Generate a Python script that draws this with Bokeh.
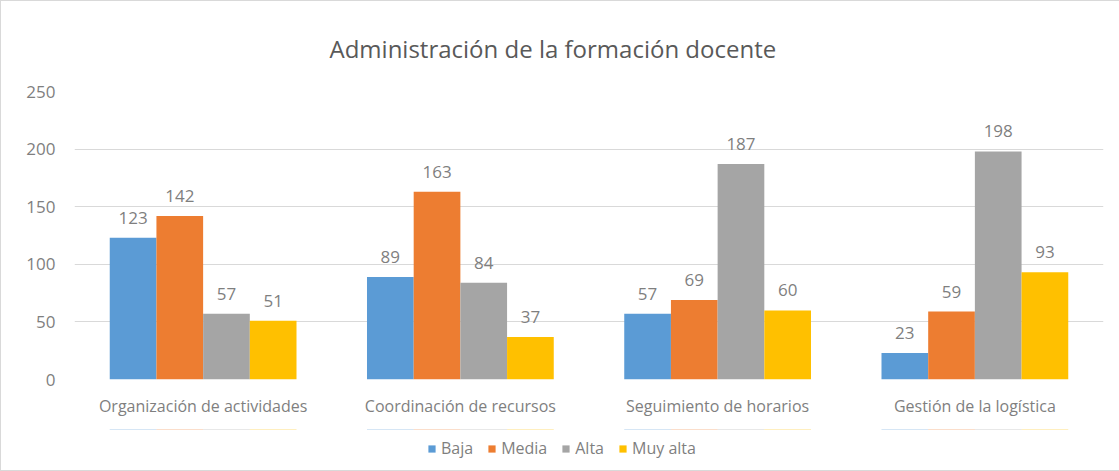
from bokeh.plotting import figure
from bokeh.models import ColumnDataSource, Range1d, Legend, LegendItem, FactorRange
from bokeh.layouts import column
from bokeh.transform import dodge
from bokeh.core.properties import value
from bokeh.embed import file_html
from bokeh.resources import INLINE

categories = ["Organización de actividades", "Coordinación de recursos",
              "Seguimiento de horarios", "Gestión de la logística"]
series_names = ["Baja", "Media", "Alta", "Muy alta"]
baja = [123, 89, 57, 23]
media = [142, 163, 69, 59]
alta = [57, 84, 187, 198]
muy_alta = [51, 37, 60, 93]
y_ticks = [0, 50, 100, 150, 200, 250]
title_text = "Administración de la formación docente"

colors = ["#5B9BD5", "#ED7D31", "#A5A5A5", "#FFC000"]
series_values = [baja, media, alta, muy_alta]
FONT = "Open Sans"
TXT = "#7f7f7f"

p = figure(x_range=FactorRange(*categories), y_range=Range1d(0, 250),
           frame_width=1029, frame_height=288, output_backend="svg", toolbar_location=None,
           min_border_left=73, min_border_right=16, min_border_top=90, min_border_bottom=50,
           title=title_text)
p.outline_line_color = None
p.background_fill_color = "white"
p.border_fill_color = "white"

p.title.align = "left"
p.title.text_font = FONT
p.title.text_font_size = "24px"
p.title.text_font_style = "normal"
p.title.text_color = "#595959"
p.title.standoff = 54
p.title.offset = 255

data = {"cat": categories}
keys = ["s0", "s1", "s2", "s3"]
for k, v in zip(keys, series_values):
    data[k] = v
src = ColumnDataSource(data)

bw = 0.1815
offsets = [-1.5 * bw, -0.5 * bw, 0.5 * bw, 1.5 * bw]
for k, c, off in zip(keys, colors, offsets):
    p.vbar(x=dodge("cat", off, range=p.x_range), top=k, width=bw, source=src,
           fill_color=c, line_color=None)
    p.text(x=dodge("cat", off, range=p.x_range), y=k, text=k, source=src,
           text_align="center", text_baseline="middle", y_offset=-20,
           text_font=value(FONT), text_font_size="17px", text_color=TXT)

p.yaxis.ticker = y_ticks
p.yaxis.axis_line_color = None
p.yaxis.major_tick_line_color = None
p.yaxis.minor_tick_line_color = None
p.yaxis.major_tick_out = 0
p.yaxis.major_tick_in = 0
p.yaxis.major_label_text_font = FONT
p.yaxis.major_label_text_font_size = "17px"
p.yaxis.major_label_text_color = TXT
p.yaxis.major_label_standoff = 19

p.xaxis.axis_line_color = None
p.xaxis.major_tick_line_color = None
p.xaxis.major_tick_out = 0
p.xaxis.major_tick_in = 0
p.xaxis.major_label_text_font = FONT
p.xaxis.major_label_text_font_size = "16px"
p.xaxis.major_label_text_color = TXT
p.xaxis.major_label_standoff = 15

p.xgrid.grid_line_color = None
p.ygrid.grid_line_color = "#d9d9d9"
p.ygrid.grid_line_width = 1

# legend strip underneath the chart (its bars lie outside its visible range)
p2 = figure(width=1118, height=41, x_range=p.x_range, y_range=Range1d(-2, -1),
            x_axis_type=None, y_axis_type=None, output_backend="svg", toolbar_location=None,
            min_border=0)
p2.outline_line_color = None
p2.grid.visible = False
items = []
for k, name, c, off in zip(keys, series_names, colors, offsets):
    r = p2.vbar(x=dodge("cat", off, range=p2.x_range), top=k, width=bw, source=src,
                fill_color=c, line_color=None)
    items.append(LegendItem(label=name, renderers=[r]))

legend = Legend(items=items, orientation="horizontal", location=(353, 11),
                glyph_width=9, glyph_height=9, label_text_font=FONT,
                label_text_font_size="16px", label_text_color=TXT,
                border_line_color=None, background_fill_alpha=0,
                spacing=14, label_standoff=5, padding=2, margin=0)
p2.add_layout(legend, "center")

layout = column(p, p2, spacing=0)
layout.styles = {"border": "1px solid #d9d9d9"}

open("out.html", "w").write(file_html(layout, INLINE))
